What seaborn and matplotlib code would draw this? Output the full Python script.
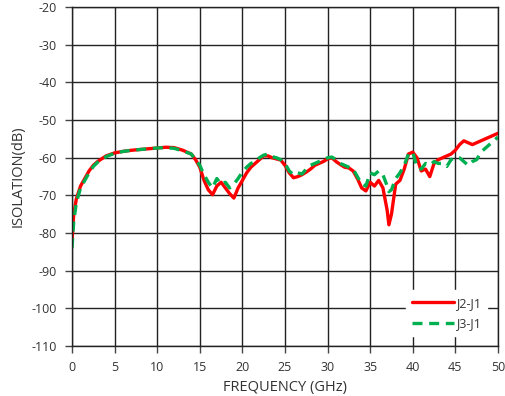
import matplotlib
matplotlib.use("Agg")
import matplotlib.pyplot as plt
import seaborn as sns
import pandas as pd

sns.set_theme(style="white")
plt.rcParams['font.family'] = ['Open Sans', 'DejaVu Sans']
plt.rcParams['axes.unicode_minus'] = False

# Isolation vs frequency
freq = [0, 0.2, 0.5, 1, 1.5, 2, 2.5, 3, 4, 5, 6, 7, 8, 9, 10, 11, 12, 13, 14, 14.5,
        15, 15.5, 16, 16.5, 17, 17.5, 18, 18.5, 19, 19.5, 20, 20.5, 21, 21.5, 22, 22.5,
        23, 23.5, 24, 24.5, 25, 25.5, 26, 26.5, 27, 27.5, 28, 28.5, 29, 29.5, 30, 30.5,
        31, 31.5, 32, 32.5, 33, 33.5, 34, 34.5, 35, 35.5, 36, 36.5, 37, 37.2, 37.5, 38,
        38.5, 39, 39.5, 40, 40.5, 41, 41.5, 42, 42.5, 43, 43.5, 44, 44.5, 45, 45.5, 46,
        46.5, 47, 47.5, 48, 48.5, 49, 49.5, 50]

j2_j1 = [-82, -75, -71, -67.5, -65.5, -63.5, -62, -61, -59.5, -58.7, -58.3, -58, -57.8, -57.6,
         -57.4, -57.2, -57.3, -58, -59, -60.5,
         -62.5, -66, -68.5, -69.8, -67.5, -66.5, -68, -69.5, -70.7, -68, -66, -64, -62.5, -61.5,
         -60.5, -59.5,
         -59.5, -60, -60.3, -60.6, -62, -64, -65.3, -65, -64.5, -63.8, -63, -62, -61.5, -61,
         -60.3, -60,
         -61, -61.8, -62.5, -62.7, -63.5, -65.5, -68, -68.8, -66.5, -67.5, -66, -68, -74, -77.8,
         -75, -67,
         -66, -63, -59, -58.5, -60, -63.5, -63, -65, -61.5, -60.5, -60, -59.5, -59, -58, -56.5,
         -55.5,
         -56, -56.5, -56, -55.5, -55, -54.5, -54, -53.5]

j3_j1 = [-84, -77, -72, -68, -66, -64, -62.3, -61.2, -59.7, -58.8, -58.3, -58, -57.8, -57.6,
         -57.4, -57.3, -57.5, -58.2, -59, -60.5,
         -62, -64.5, -66.5, -68, -65.5, -67, -66.5, -68, -67, -65.5, -63.8, -62.5, -61.5, -61,
         -60, -59.3,
         -59, -59.7, -60, -60.5, -61.5, -63.5, -64.5, -64, -64.3, -63, -62, -61.5, -61, -60.5,
         -60, -59.8,
         -60.5, -61.5, -62, -62.5, -63, -65, -67, -67.5, -64, -64.5, -63.5, -64.5, -67.5, -69,
         -68.5, -65.5,
         -64, -62, -59, -58.5, -62.5, -63, -61.5, -62, -61, -61.5, -61.5, -62.3, -60.5, -60,
         -60, -61,
         -62, -61, -60.5, -58.5, -57.5, -56.5, -55.5, -54.5]

df = pd.DataFrame({'freq': freq, 'J2-J1': j2_j1, 'J3-J1': j3_j1})

fig = plt.figure(figsize=(5.05, 3.96), dpi=100)
ax = fig.add_axes([0.1426, 0.126, 0.8434, 0.856])

sns.lineplot(data=df, x='freq', y='J2-J1', ax=ax, color='#FF0000', lw=2.4, label='J2-J1')
sns.lineplot(data=df, x='freq', y='J3-J1', ax=ax, color='#00B050', lw=2.4,
             dashes=False, label='J3-J1')
ax.lines[1].set_linestyle((0, (3, 2)))

ax.set_xlim(0, 50)
ax.set_ylim(-110, -20)
ax.set_xticks(range(0, 51, 5))
ax.set_yticks(range(-110, -19, 10))
ax.grid(True, color='#222222', lw=1)
for s in ax.spines.values():
    s.set_color('#222222')
    s.set_linewidth(1)
ax.tick_params(axis='both', direction='out', length=5, width=1, color='#444444',
               labelsize=9, labelcolor='#333333', bottom=True, left=True, pad=6)
ax.set_xlabel('FREQUENCY (GHz)', fontsize=10.5, color='#333333', labelpad=4)
ax.set_ylabel('ISOLATION(dB)', fontsize=10.5, color='#333333', labelpad=4)

leg = ax.legend(loc='lower right', bbox_to_anchor=(0.99, 0.01), frameon=True,
                fontsize=9, handlelength=3.3, labelspacing=0.6, borderpad=0.5,
                handletextpad=0.2)
leg.get_frame().set_facecolor('white')
leg.get_frame().set_edgecolor('white')
leg.get_frame().set_alpha(1)
for t in leg.get_texts():
    t.set_color('#333333')

fig.savefig('out.png', dpi=100)
